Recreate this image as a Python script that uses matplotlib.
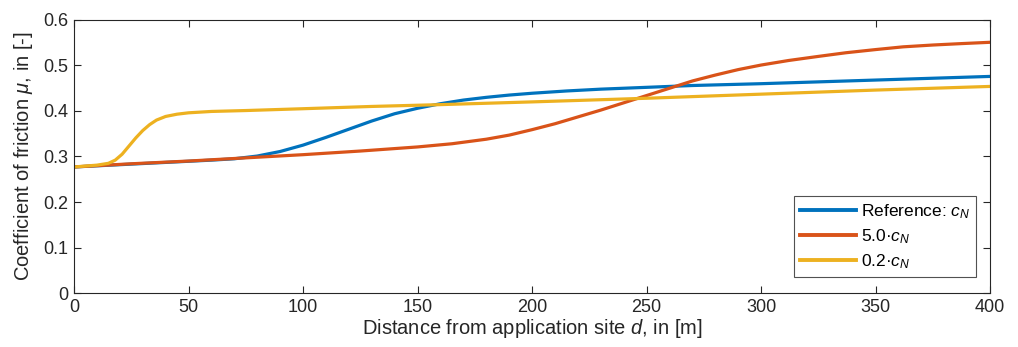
import matplotlib
matplotlib.use("Agg")
import matplotlib.pyplot as plt

plt.rcParams['font.family'] = ['Liberation Sans', 'DejaVu Sans']
plt.rcParams['mathtext.fontset'] = 'custom'
plt.rcParams['mathtext.rm'] = 'Liberation Sans'
plt.rcParams['mathtext.it'] = 'Liberation Sans:italic'

# distance d in [m]
d_ref = [0, 20, 40, 60, 70, 80, 90, 100, 110, 120, 130, 140, 150, 160, 170, 180,
         190, 200, 215, 230, 250, 270, 300, 325, 350, 375, 400]
mu_ref = [0.277, 0.282, 0.287, 0.292, 0.295, 0.301, 0.311, 0.325, 0.342, 0.360,
          0.378, 0.394, 0.406, 0.416, 0.424, 0.430, 0.435, 0.439, 0.444, 0.448,
          0.452, 0.456, 0.460, 0.464, 0.468, 0.472, 0.476]

d_5 = [0, 25, 50, 75, 100, 125, 150, 165, 180, 190, 200, 210, 220, 230, 240, 250,
       260, 270, 280, 290, 300, 312, 325, 337, 350, 362, 375, 387, 400]
mu_5 = [0.277, 0.284, 0.290, 0.297, 0.304, 0.312, 0.321, 0.328, 0.338, 0.347,
        0.359, 0.372, 0.387, 0.402, 0.418, 0.434, 0.450, 0.466, 0.479, 0.491,
        0.501, 0.511, 0.520, 0.528, 0.535, 0.541, 0.545, 0.548, 0.551]

d_02 = [0, 10, 15, 18, 21, 24, 27, 30, 33, 36, 40, 45, 50, 60, 75, 100, 130, 160,
        200, 250, 300, 350, 400]
mu_02 = [0.277, 0.281, 0.285, 0.292, 0.305, 0.323, 0.341, 0.357, 0.370, 0.380,
         0.388, 0.393, 0.396, 0.399, 0.401, 0.405, 0.410, 0.414, 0.420, 0.428,
         0.437, 0.446, 0.454]

fig = plt.figure(figsize=(10.18, 3.47), dpi=100)
ax = fig.add_axes([0.0727, 0.1556, 0.9000, 0.7868])

lw = 2.3
ax.plot(d_ref, mu_ref, color='#0072BD', lw=lw, label='Reference: $c_N$')
ax.plot(d_5, mu_5, color='#D95319', lw=lw, label='5.0·$c_N$')
ax.plot(d_02, mu_02, color='#EDB120', lw=lw, label='0.2·$c_N$')

ax.set_xlim(0, 400)
ax.set_ylim(0, 0.6)
ax.set_xticks(range(0, 401, 50))
ax.set_yticks([0, 0.1, 0.2, 0.3, 0.4, 0.5, 0.6])
ax.set_yticklabels(['0', '0.1', '0.2', '0.3', '0.4', '0.5', '0.6'])
ax.tick_params(direction='in', top=True, right=True, labelsize=13, length=5,
               width=0.8, colors='#262626', pad=4)
for s in ax.spines.values():
    s.set_color('#262626')
    s.set_linewidth(0.8)

ax.set_xlabel('Distance from application site $d$, in [m]', fontsize=14.5,
              color='#262626', labelpad=1)
ax.set_ylabel(r'Coefficient of friction $\mu$, in [-]', fontsize=14.5,
              color='#262626', labelpad=6)

leg = ax.legend(loc='lower right', bbox_to_anchor=(0.985, 0.06), fontsize=12.5,
                frameon=True, fancybox=False, handlelength=3.2, borderpad=0.35,
                labelspacing=0.35, handletextpad=0.3, borderaxespad=0)
leg.get_frame().set_edgecolor('#262626')
leg.get_frame().set_linewidth(0.8)
for h in leg.get_lines():
    h.set_linewidth(2.8)

fig.savefig('out.png', dpi=100)
